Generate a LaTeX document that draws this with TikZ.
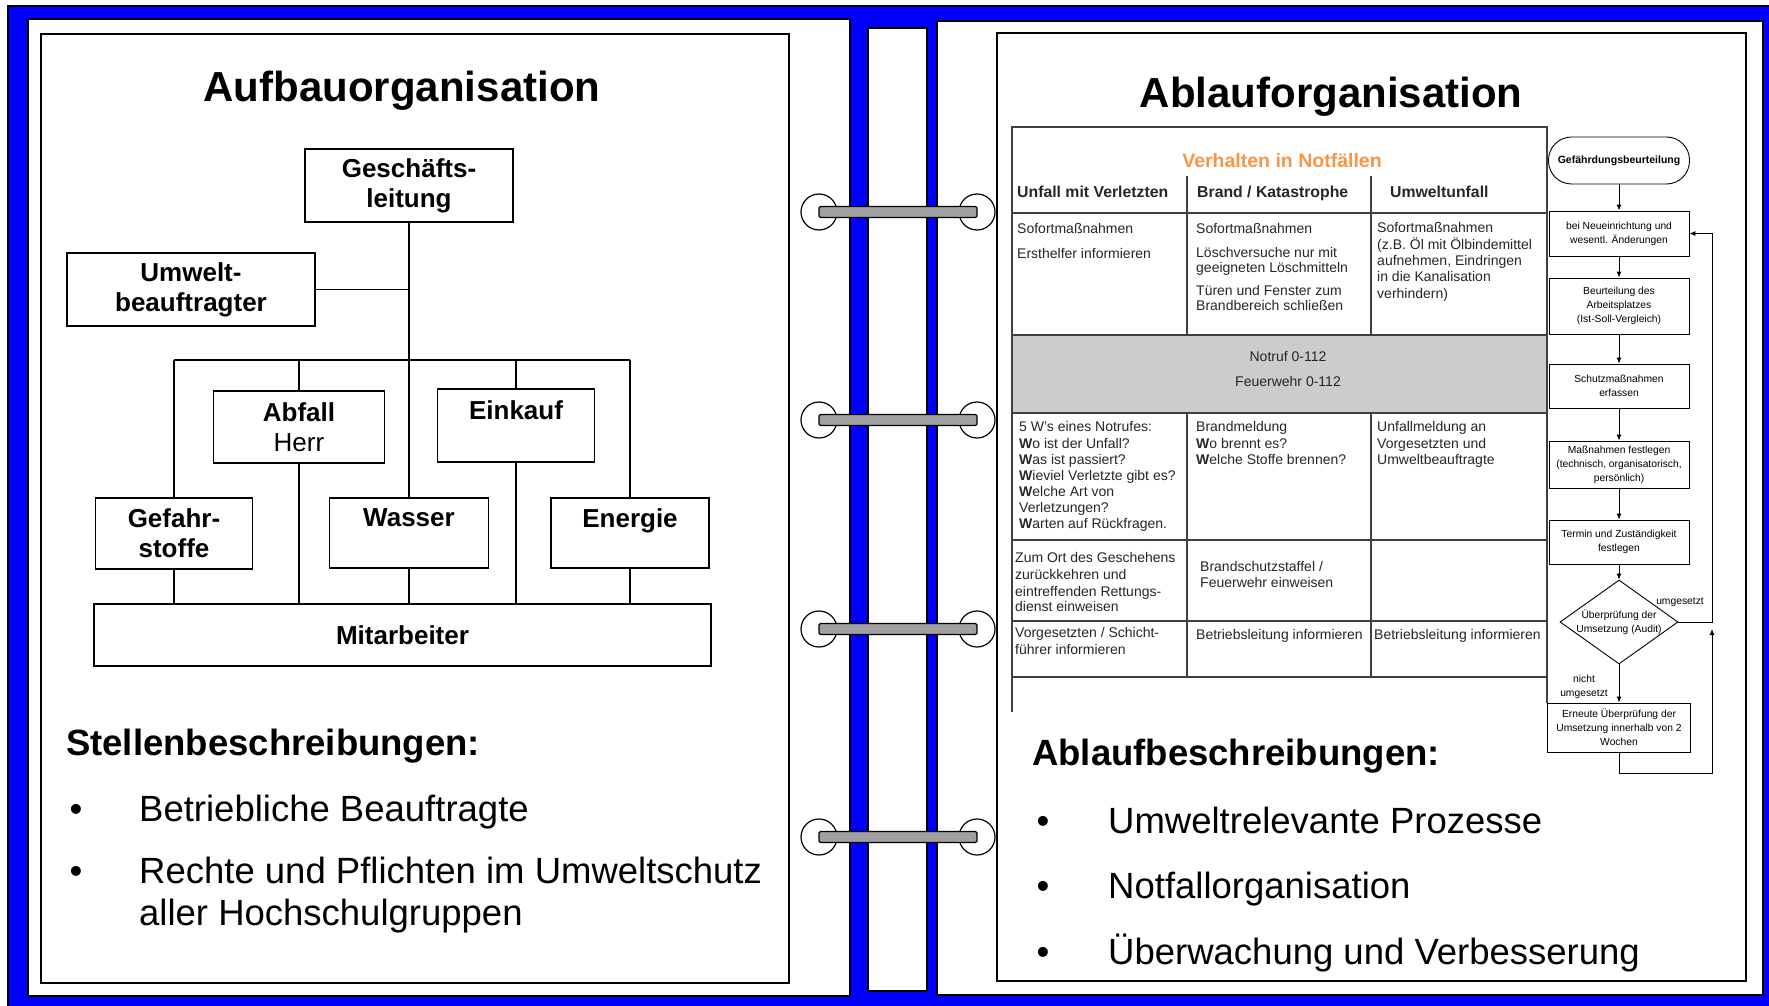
\documentclass[tikz,border=0pt]{standalone}
\usepackage{fontspec}
\setmainfont{Liberation Sans}
\usepackage{xcolor}
\usetikzlibrary{shapes.geometric, arrows.meta, positioning, calc}

\definecolor{binderblue}{RGB}{0,0,255}
\definecolor{ringgray}{RGB}{160,160,160}
\definecolor{rowgray}{RGB}{204,204,204}
\definecolor{notorange}{RGB}{247,150,70}
\newcommand{\setfs}[2]{\fontsize{#1}{#2}\selectfont}

\tikzset{
    page/.style={fill=white, draw=black, line width=1.8pt},
    orgbox/.style={draw, line width=1.6pt, align=center, inner sep=0pt, font={\setfs{26}{30}\bfseries}},
    orgline/.style={line width=1.4pt},
    flowbox/.style={draw, line width=0.9pt, align=center, inner sep=0pt, minimum width=140pt, font={\setfs{10.3}{14}}},
    flowtxt/.style={align=center, inner sep=0pt, font={\setfs{10.3}{14}}},
    arr/.style={line width=0.9pt, -{Latex[length=6pt,width=5pt]}},
    tabline/.style={line width=1.5pt, black!75},
    tabtxt/.style={anchor=west, inner sep=0pt, text=black!85, font={\setfs{14}{16}}, text height=10pt, text depth=3pt},
    bigtxt/.style={anchor=base west, inner sep=0pt, font={\setfs{36.5}{40}}}
}

\begin{document}
\begin{tikzpicture}[x=1pt, y=-1pt]
\useasboundingbox (0,0) rectangle (1769,1006);
\fill[white] (0,0) rectangle (1769,1006);
\fill[binderblue] (8,6) rectangle (1769,1006);
\draw[line width=2pt] (8,1006) -- (8,6) -- (1769,6);
\draw[page] (28,19) rectangle (850,996);
\draw[page] (868,28) rectangle (927,991);
\draw[page] (937,21) rectangle (1763,995);
\draw[line width=1.8pt] (41,34) rectangle (789,983);
\draw[line width=1.8pt] (997,33) rectangle (1746,981);

\foreach \y in {212,420,629,837} {
    \draw[fill=white, line width=1.2pt] (819,\y) circle (18pt);
    \draw[fill=white, line width=1.2pt] (977,\y) circle (18pt);
    \draw[fill=ringgray, line width=1.2pt, rounded corners=1.5pt] (819,\y-5.5) rectangle (977,\y+5.5);
}

\node[anchor=base, font={\setfs{42}{48}\bfseries}] (ltitle) at (402,102) {Aufbauorganisation};
\node[anchor=base, font={\setfs{42}{48}\bfseries}] (rtitle) at (1331,108) {Ablauforganisation};

\node[orgbox, minimum width=208pt, minimum height=73pt] (gl) at (409,185.5) {Geschäfts-\\leitung};
\node[orgbox, minimum width=248pt, minimum height=73pt] (uwb) at (191,289.5) {Umwelt-\\beauftragter};
\node[orgbox, minimum width=171pt, minimum height=72pt] (abf) at (299,427) {Abfall\\{\mdseries Herr}};
\node[orgbox, minimum width=157pt, minimum height=73pt] (eink) at (516,425.5) {Einkauf\\\mbox{}};
\node[orgbox, minimum width=157pt, minimum height=71pt] (gef) at (174,533.5) {Gefahr-\\stoffe};
\node[orgbox, minimum width=159pt, minimum height=70pt] (was) at (409,533) {Wasser\\\mbox{}};
\node[orgbox, minimum width=158pt, minimum height=70pt] (ene) at (630,533) {Energie\\\mbox{}};
\node[orgbox, minimum width=617pt, minimum height=62pt] (mit) at (402.5,635) {Mitarbeiter};
\coordinate (bus) at (0,360);
\draw[orgline] (gl.south) -- (was.north);
\draw[orgline] (uwb.east) -- (uwb.east -| gl.south);
\draw[orgline] (gef.north |- bus) -- (ene.north |- bus);
\foreach \nm in {gef,abf,eink,ene}
    \draw[orgline] (\nm.north) -- (\nm.north |- bus);
\foreach \nm in {gef,abf,was,eink,ene}
    \draw[orgline] (\nm.south) -- (\nm.south |- mit.north);

\node[bigtxt, font={\setfs{36.5}{40}\bfseries}] (stb) at (66,755) {Stellenbeschreibungen:};
\node[bigtxt, font={\setfs{36.5}{40}\bfseries}] (ablb) at (1032,765) {Ablaufbeschreibungen:};
\foreach \x/\y/\t [count=\i] in {
    139/821/Betriebliche Beauftragte,
    139/883/Rechte und Pflichten im Umweltschutz,
    139/925/aller Hochschulgruppen,
    1108/833/Umweltrelevante Prozesse,
    1108/898/Notfallorganisation,
    1108/964/Überwachung und Verbesserung} {
    \node[bigtxt] (item\i) at (\x,\y) {\t};
}
\foreach \x/\y [count=\i] in {76/821, 76/883, 1043/833, 1043/898, 1043/964}
    \node[anchor=base, inner sep=0pt, font={\setfs{36.5}{40}}] (dot\i) at (\x,\y) {•};

\fill[rowgray] (1012,335) rectangle (1547,413);
\draw[tabline] (1547,703) -- (1547,127) -- (1012,127) -- (1012,712);
\foreach \y in {213,335,413,540,621,677}
    \draw[tabline] (1012,\y) -- (1547,\y);
\foreach \x in {1187,1371} {
    \draw[tabline] (\x,176) -- (\x,335);
    \draw[tabline] (\x,413) -- (\x,677);
}
\node[font={\setfs{19.5}{22}\bfseries}, text=notorange] (tabtitle) at (1282,161) {Verhalten in Notfällen};
\foreach \x/\t [count=\i] in {1017/Unfall mit Verletzten, 1197/{Brand / Katastrophe}, 1390/Umweltunfall}
    \node[tabtxt, font={\setfs{15.8}{18}\bfseries}] (head\i) at (\x,194) {\t};
\foreach \x/\y/\t [count=\i] in {
    1017/230/Sofortmaßnahmen,
    1017/255/Ersthelfer informieren,
    1196/230/Sofortmaßnahmen,
    1196/254/Löschversuche nur mit,
    1196/269/geeigneten Löschmitteln,
    1196/292/Türen und Fenster zum,
    1196/307/Brandbereich schließen,
    1377/229/Sofortmaßnahmen,
    1377/246/(z.B. Öl mit Ölbindemittel,
    1377/262/{aufnehmen, Eindringen},
    1377/278/in die Kanalisation,
    1377/295/verhindern),
    1019/428/5 W's eines Notrufes:,
    1019/445/\textbf{W}o ist der Unfall?,
    1019/461/\textbf{W}as ist passiert?,
    1019/477/\textbf{W}ieviel Verletzte gibt es?,
    1019/493/\textbf{W}elche Art von,
    1019/509/Verletzungen?,
    1019/525/\textbf{W}arten auf Rückfragen.,
    1196/428/Brandmeldung,
    1196/445/\textbf{W}o brennt es?,
    1196/461/\textbf{W}elche Stoffe brennen?,
    1377/428/Unfallmeldung an,
    1377/445/Vorgesetzten und,
    1377/461/Umweltbeauftragte,
    1015/559/Zum Ort des Geschehens,
    1015/576/zurückkehren und,
    1015/593/eintreffenden Rettungs-,
    1015/608/dienst einweisen,
    1200/568/{Brandschutzstaffel /},
    1200/584/Feuerwehr einweisen,
    1015/634/{Vorgesetzten / Schicht-},
    1015/651/führer informieren,
    1196/636/Betriebsleitung informieren,
    1374/636/Betriebsleitung informieren} {
    \node[tabtxt] (cell\i) at (\x,\y) {\t};
}
\node[tabtxt, anchor=center] (notruf) at (1288,358) {Notruf 0-112};
\node[tabtxt, anchor=center] (feuerwehr) at (1288,383) {Feuerwehr 0-112};

\node[flowbox, rounded corners=23pt, minimum width=141pt, minimum height=47pt, font={\setfs{10.5}{13}\bfseries}] (fstart) at (1619,160.5) {Gefährdungsbeurteilung};
\node[flowbox, minimum height=45pt] (fb1) at (1619,233.5) {bei Neueinrichtung und\\wesentl. Änderungen};
\node[flowbox, minimum height=56pt] (fb2) at (1619,306) {Beurteilung des\\Arbeitsplatzes\\(Ist-Soll-Vergleich)};
\node[flowbox, minimum height=44pt] (fb3) at (1619,386) {Schutzmaßnahmen\\erfassen};
\node[flowbox, minimum height=47pt] (fb4) at (1619,464.5) {Maßnahmen festlegen\\(technisch, organisatorisch,\\persönlich)};
\node[flowbox, minimum height=44pt] (fb5) at (1619,542) {Termin und Zuständigkeit\\festlegen};
\node[diamond, draw, line width=0.9pt, minimum width=118pt, minimum height=84pt, inner sep=0pt] (fdia) at (1619,622) {};
\node[flowtxt] (fdiatxt) at (fdia) {Überprüfung der\\Umsetzung (Audit)};
\node[flowbox, minimum width=143pt, minimum height=49pt] (fb6) at (1619,727.5) {Erneute Überprüfung der\\Umsetzung innerhalb von 2\\Wochen};
\foreach \src/\dst in {fstart/fb1, fb1/fb2, fb2/fb3, fb3/fb4, fb4/fb5, fb5/fdia, fdia/fb6}
    \draw[arr] (\src.south) -- (\dst.north);
\coordinate (floopb) at (1712,773);
\coordinate (fret) at (1712,629);
\draw[arr] (fdia.east) -- (fdia.east -| floopb) |- (fb1.east);
\draw[arr] (fb6.south) |- (floopb) -- (fret);
\node[flowtxt] (fumg) at (1680,602) {umgesetzt};
\node[flowtxt] (fnicht) at (1584,687) {nicht\\umgesetzt};
\end{tikzpicture}
\end{document}
